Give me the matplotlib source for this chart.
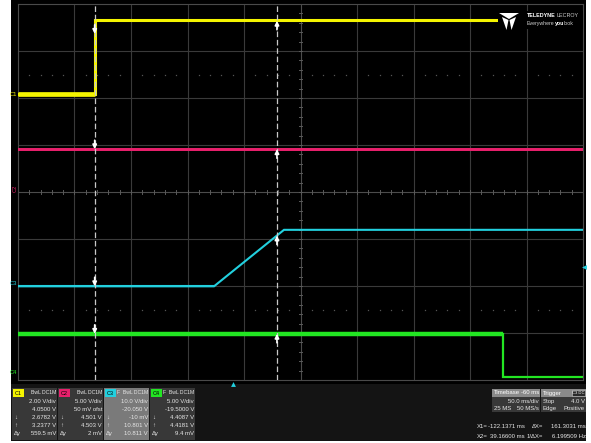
import matplotlib
matplotlib.use("Agg")
import matplotlib.pyplot as plt
from matplotlib.patches import Rectangle, Polygon
import numpy as np

W, H = 591, 443
FONT = ["Liberation Sans Narrow", "Liberation Sans", "DejaVu Sans"]

# ---- acquisition settings ----
time_per_div = 50.0          # ms/div
delay = -60.0                # ms
n_hdiv, n_vdiv = 10, 8

channels = ["C1", "C2", "C3", "C4"]
volts_per_div = [2.0, 5.0, 10.0, 5.0]
offsets = [4.05, 0.05, -20.05, -19.5]
colors = ["#f4f400", "#e8206c", "#22d0de", "#22e622"]
headers = ["BwL DC1M", "BwL DC1M", "F  BwL DC1M", "F  BwL DC1M"]
scale_txt = ["2.00 V/div", "5.00 V/div", "10.0 V/div", "5.00 V/div"]
offset_txt = ["4.0500 V", "50 mV ofst", "-20.050 V", "-19.5000 V"]

# ---- waveform breakpoints (time in ms, level in V) ----
c1_t = [-190.0, -122.1, -122.1, 310.0]
c1_v = [0.14, 0.14, 3.26, 3.26]
c2_t = [-190.0, 310.0]
c2_v = [4.50, 4.50]
c3_t = [-190.0, -16.5, 45.4, 310.0]
c3_v = [-0.01, -0.01, 12.0, 12.0]
c4_t = [-190.0, 239.2, 239.2, 310.0]
c4_v = [4.41, 4.41, -0.15, -0.15]
traces_t = [c1_t, c2_t, c3_t, c4_t]
traces_v = [c1_v, c2_v, c3_v, c4_v]

# ---- cursors ----
x1_ms = -122.1371
x2_ms = 39.16600
at_x1 = [2.6782, 4.501, -0.010, 4.4087]
at_x1_txt = ["2.6782 V", "4.501 V", "-10 mV", "4.4087 V"]
at_x2 = [3.2377, 4.503, 10.801, 4.4181]
at_x2_txt = ["3.2377 V", "4.503 V", "10.801 V", "4.4181 V"]
dy_txt = ["559.5 mV", "2 mV", "10.811 V", "9.4 mV"]

trig_level = 4.0
trig_ch = 2

center_t = -delay
t_lo = center_t - n_hdiv / 2 * time_per_div
t_hi = center_t + n_hdiv / 2 * time_per_div


def to_div(v, ch):
    return (np.asarray(v) + offsets[ch]) / volts_per_div[ch]


fig = plt.figure(figsize=(W / 100, H / 100), dpi=100, facecolor="white")

# pixel-space backdrop for the screen and the info panel
bg = fig.add_axes([0, 0, 1, 1], zorder=0)
bg.set_xlim(0, W)
bg.set_ylim(H, 0)
bg.axis("off")
bg.add_patch(Rectangle((11, 0), 575, 441, fc="#000000", ec="none"))
bg.add_patch(Rectangle((11, 384), 575, 57, fc="#141414", ec="none"))

# ---- scope grid ----
gl, gr, gt, gb = 18, 583, 4, 380
ax = fig.add_axes([gl / W, (H - gb) / H, (gr - gl) / W, (gb - gt) / H], zorder=1)
ax.set_facecolor("#000000")
ax.set_xlim(t_lo, t_hi)
ax.set_ylim(-n_vdiv / 2, n_vdiv / 2)
for s in ax.spines.values():
    s.set_color("#4a4a4a")
    s.set_linewidth(0.8)
ax.set_xticks([])
ax.set_yticks([])

grid_c = "#3a3a3a"
for i in range(1, n_hdiv):
    t = t_lo + i * time_per_div
    ax.axvline(t, color=grid_c if i != n_hdiv // 2 else "#4c4c4c", lw=0.8, zorder=1)
for j in range(1, n_vdiv):
    y = -n_vdiv / 2 + j
    ax.axhline(y, color=grid_c if j != n_vdiv // 2 else "#4c4c4c", lw=0.8, zorder=1)

# tick marks along the centre axes
minor_t = np.arange(t_lo, t_hi + 1e-6, time_per_div / 5)
minor_y = np.arange(-n_vdiv / 2, n_vdiv / 2 + 1e-6, 0.2)
for t in minor_t:
    ax.plot([t, t], [-0.045, 0.045], color="#5a5a5a", lw=0.7, zorder=1)
for y in minor_y:
    ax.plot([center_t - 1.3, center_t + 1.3], [y, y], color="#5a5a5a", lw=0.7, zorder=1)
# dotted rows
dots_t = [t for t in minor_t if abs(((t - t_lo) / time_per_div) % 1) > 1e-6]
for yy in (2.5, -2.5):
    ax.plot(dots_t, [yy] * len(dots_t), ls="none", marker="s", ms=0.9,
            color="#555555", mec="none", zorder=1)

# ---- traces ----
base_lw = [2.2, 2.0, 1.5, 1.6]
noisy_lw = [3.4, 2.0, 1.5, 3.2]
for ch in range(4):
    t = traces_t[ch]
    y = to_div(traces_v[ch], ch)
    ax.plot(t, y, color=colors[ch], lw=base_lw[ch], zorder=3, solid_joinstyle="miter")
    ax.plot(t[:2], y[:2], color=colors[ch], lw=noisy_lw[ch], zorder=3,
            solid_capstyle="butt")

# ---- cursors ----
for xc in (x1_ms, x2_ms):
    ln, = ax.plot([xc, xc], [-4, 4], color="#c8c8c8", lw=0.9, zorder=4)
    ln.set_dashes([4.5, 2.2])
for ch in range(4):
    y1 = to_div(at_x1[ch], ch)
    y2 = to_div(at_x2[ch], ch)
    ax.annotate("", xy=(x1_ms, y1), xytext=(0, 9), textcoords="offset pixels",
                arrowprops=dict(arrowstyle="-|>", color="white", lw=1.2,
                                mutation_scale=6, shrinkA=0, shrinkB=0), zorder=5)
    ax.annotate("", xy=(x2_ms, y2), xytext=(0, -9), textcoords="offset pixels",
                arrowprops=dict(arrowstyle="-|>", color="white", lw=1.2,
                                mutation_scale=6, shrinkA=0, shrinkB=0), zorder=5)

# trigger position / level markers
ax.plot(0.0, -4.09, marker="^", ms=3.5, color=colors[trig_ch], mec="none", clip_on=False, zorder=6)
ax.plot(t_hi + 1.0, to_div(trig_level, trig_ch), marker="<", ms=3.5,
        color=colors[trig_ch], mec="none", clip_on=False, zorder=6)

# channel ground markers on the left edge
for ch in range(4):
    g = float(to_div(0.0, ch))
    ax.text(t_lo - 0.5, g + 0.06, channels[ch], color=colors[ch], fontsize=4.2,
            ha="right", va="center", family=FONT, clip_on=False, zorder=6,
            rotation=90 if ch == 1 else 0)

# ---- overlay layer (logo) ----
top = fig.add_axes([0, 0, 1, 1], zorder=2)
top.set_xlim(0, W)
top.set_ylim(H, 0)
top.axis("off")
top.patch.set_alpha(0)

top.add_patch(Rectangle((498, 11), 84.5, 18, fc="#000000", ec="none"))
top.add_patch(Polygon([[499, 13], [519, 13], [509, 19]], closed=True, fc="white", ec="none"))
top.add_patch(Polygon([[502, 17], [508.5, 20], [506.5, 30]], closed=True, fc="white", ec="none"))
top.add_patch(Polygon([[516, 17], [509.5, 20], [511.5, 30]], closed=True, fc="white", ec="none"))

fig.canvas.draw()
r = fig.canvas.get_renderer()


def right_edge(txt):
    return top.transData.inverted().transform((txt.get_window_extent(r).x1, 0))[0]


t1 = top.text(527, 15.5, "TELEDYNE", color="white", fontsize=3.9, weight="bold",
              family=FONT, ha="left", va="center")
top.text(right_edge(t1) + 1.0, 15.5, "LECROY", color="#cfcfcf", fontsize=3.9,
         family=FONT, ha="left", va="center")
t2 = top.text(527, 23.5, "Everywhere", color="#cfcfcf", fontsize=3.8,
              family=FONT, ha="left", va="center")
t3 = top.text(right_edge(t2), 23.5, "you", color="white", fontsize=3.8, weight="bold",
              family=FONT, ha="left", va="center")
top.text(right_edge(t3), 23.5, "look", color="#cfcfcf", fontsize=3.8,
         family=FONT, ha="left", va="center")

# ---- channel descriptor boxes ----
txt_c = "#e6e6e6"
fs = 4.3
box_x = [12, 58, 104, 150]
for ch in range(4):
    x0 = box_x[ch]
    light = ch == 2
    bg.add_patch(Rectangle((x0, 388), 45, 52, fc="#7a7a7a" if light else "#383838", ec="none"))
    bg.add_patch(Rectangle((x0 + 1, 389), 11, 8, fc=colors[ch], ec="none"))
    bg.text(x0 + 6.5, 393.2, channels[ch], color="black", fontsize=4.0, ha="center",
            va="center", family=FONT)
    bg.text(x0 + 44, 393, headers[ch], color=txt_c, fontsize=3.7, ha="right",
            va="center", family=FONT)
    rows = [scale_txt[ch], offset_txt[ch], at_x1_txt[ch], at_x2_txt[ch], dy_txt[ch]]
    for k, r_ in enumerate(rows):
        bg.text(x0 + 44, 401.5 + 8 * k, r_, color=txt_c, fontsize=fs, ha="right",
                va="center", family=FONT)
    for k, sym in zip((2, 3, 4), ("\u2193", "\u2191", "\u0394y")):
        bg.text(x0 + 2, 401.5 + 8 * k, sym, color=txt_c, fontsize=fs, ha="left",
                va="center", family=FONT)

# ---- timebase / trigger boxes ----
bg.add_patch(Rectangle((492, 389), 48, 23, fc="#383838", ec="none"))
bg.add_patch(Rectangle((492, 389), 48, 8, fc="#8a8a8a", ec="none"))
bg.text(493.5, 393, "Timebase", color="white", fontsize=fs, ha="left", va="center", family=FONT)
bg.text(539, 393, f"{delay:.0f} ms", color="white", fontsize=fs, ha="right", va="center", family=FONT)
bg.text(539, 401.5, f"{time_per_div:.1f} ms/div", color=txt_c, fontsize=fs, ha="right",
        va="center", family=FONT)
bg.text(493.5, 408.5, "25 MS", color=txt_c, fontsize=fs, ha="left", va="center", family=FONT)
bg.text(539, 408.5, "50 MS/s", color=txt_c, fontsize=fs, ha="right", va="center", family=FONT)

bg.add_patch(Rectangle((541, 389), 45, 23, fc="#383838", ec="none"))
bg.add_patch(Rectangle((541, 389), 45, 8, fc="#8a8a8a", ec="none"))
bg.text(542.5, 393, "Trigger", color="white", fontsize=fs, ha="left", va="center", family=FONT)
bg.add_patch(Rectangle((572, 390), 13, 6, fc="#2a2a2a", ec="#cccccc", lw=0.4))
bg.text(578.5, 393, "C3 DC", color="white", fontsize=3.0, ha="center", va="center", family=FONT)
bg.text(542.5, 401.5, "Stop", color=txt_c, fontsize=fs, ha="left", va="center", family=FONT)
bg.text(585, 401.5, f"{trig_level:.1f} V", color=txt_c, fontsize=fs, ha="right", va="center", family=FONT)
bg.text(542.5, 408.5, "Edge", color=txt_c, fontsize=fs, ha="left", va="center", family=FONT)
bg.text(585, 408.5, "Positive", color=txt_c, fontsize=fs, ha="right", va="center", family=FONT)

# ---- cursor readout ----
dx = x2_ms - x1_ms
rows = [("X1=", f"{x1_ms:.4f} ms", "\u0394X=", f"{dx:.4f} ms"),
        ("X2=", f"{x2_ms:.5f} ms", "1/\u0394X=", f"{1000.0 / dx:.6f} Hz")]
for k, (a, b, c, d) in enumerate(rows):
    y = 427 + 10 * k
    bg.text(477, y, a, color=txt_c, fontsize=fs, ha="left", va="center", family=FONT)
    bg.text(525, y, b, color=txt_c, fontsize=fs, ha="right", va="center", family=FONT)
    bg.text(543, y, c, color=txt_c, fontsize=fs, ha="right", va="center", family=FONT)
    bg.text(586, y, d, color=txt_c, fontsize=fs, ha="right", va="center", family=FONT)

fig.savefig("out.png", dpi=100, facecolor="white")
